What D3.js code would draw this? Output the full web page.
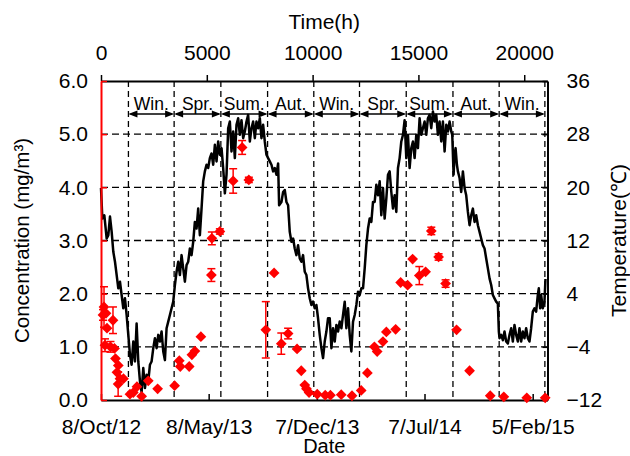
<!DOCTYPE html>
<html>
<head>
<meta charset="utf-8">
<script src="https://cdn.jsdelivr.net/npm/d3@7"></script>
<style>
  body { margin: 0; background: #fff; }
  svg { display: block; font-family: "Liberation Sans", Arial, sans-serif; }
</style>
</head>
<body>
<div id="chart"></div>
<script>
// Temperature (hourly record): hours since start, degC
var tempHours = [0,63,157,268,346,425,504,582,661,740,818,897,975,1054,1133,1211,1290,1369,1447,1526,1605,1683,1762,1841,1919,1998,2077,2155,2234,2312,2391,2470,2548,2627,2706,2784,2863,2942,3020,3099,3178,3256,3335,3414,3492,3571,3650,3728,3807,3885,3964,4043,4121,4200,4279,4357,4436,4515,4593,4672,4751,4829,4908,4987,5065,5144,5223,
  5302,5381,5460,5538,5617,5696,5774,5853,5932,6010,6089,6167,6246,6325,6403,6482,6561,6639,6718,6797,6875,6954,7033,7111,7190,7269,7347,7426,7505,7583,7662,7740,7819,7898,7976,8055,8134,8212,8291,8370,8417,8527,8606,8684,8763,8842,8920,8999,9078,9156,9235,9313,9392,9471,9549,9628,9707,9785,9864,9943,10021,10100,10179,10257,10336,10415,10493,10572,10651,10729,
  10809,10888,10966,11045,11124,11202,11281,11360,11438,11517,11595,11674,11753,11831,11910,11989,12067,12146,12225,12303,12382,12461,12539,12618,12697,12775,12854,12933,13011,13090,13169,13247,13326,13404,13483,13562,13640,13719,13798,13876,13955,14034,14112,14191,14270,14348,14427,14506,14584,14663,14741,14820,14899,14977,15056,15135,15213,15292,15371,15449,15528,15607,15685,15764,15843,15921,16000,
  16080,16158,16237,16316,16394,16473,16552,16599,16662,16709,16756,16819,16866,16945,17023,17102,17181,17259,17338,17417,17495,17574,17653,17731,17810,17889,17967,18046,18125,18203,18282,18361,18439,18518,18596,18675,18754,18801,18832,18911,18990,19068,19147,19226,19304,19383,19462,19540,19619,19698,19776,19855,19934,20012,20091,20170,20248,20327,20406,20484,20563,20642,20689,20752,20799,20878,20957,21004];
var tempValues = [19.9,15.3,15.8,12.3,12.8,15.6,13.3,10.3,8.8,6.8,4.8,5.8,3.8,1.8,3.3,0.8,-2.2,-5.2,-6.7,-3.2,-6.2,-0.5,-6.2,-9.2,-10.8,-7.2,-10.2,-8.2,-9.2,-6.7,-6.2,-4.2,-2.7,-4.2,-2.2,-3.2,-1.7,-4.7,-6.0,-1.2,-0.2,0.8,1.8,2.8,5.3,7.3,8.8,6.8,9.8,7.8,5.8,8.3,8.8,10.8,9.8,11.8,14.8,13.8,16.8,12.8,16.8,20.9,22.4,23.4,22.9,24.4,25.1,
  23.4,26.4,23.9,26.9,24.9,25.9,22.9,19.1,21.9,28.9,29.9,25.4,28.4,24.4,29.4,30.4,27.9,30.1,27.4,28.4,29.9,30.9,26.9,28.9,29.9,27.4,29.9,28.9,30.4,27.4,29.4,26.9,24.9,24.4,23.9,23.4,22.4,22.9,21.9,23.6,17.3,17.8,19.3,19.6,17.8,17.3,13.3,11.8,12.3,10.8,9.8,11.3,9.3,8.8,9.8,7.3,6.8,4.8,3.3,2.3,2.8,1.8,2.3,0.3,-2.2,-4.2,-5.7,-3.2,-1.7,0.3,
  0.3,-4.2,-1.2,-3.2,-0.7,-1.7,-0.2,-1.2,0.8,2.8,-1.2,1.8,-2.2,-4.7,-0.2,0.8,2.3,4.3,3.8,4.8,4.8,7.8,11.3,13.8,15.3,14.8,17.8,17.8,20.4,18.8,20.9,15.8,19.9,15.3,18.3,21.9,22.4,19.3,16.8,18.8,16.3,22.9,24.4,26.9,27.9,30.1,24.4,27.9,22.9,25.9,26.9,24.4,27.9,25.9,30.4,27.9,28.9,29.9,27.9,30.4,30.9,28.9,31.4,29.9,30.9,27.9,29.9,
  26.9,29.9,25.4,29.4,28.4,29.9,28.4,27.9,21.9,24.9,25.9,23.4,22.4,21.4,19.3,22.4,19.9,18.8,16.3,14.3,15.8,16.8,14.8,15.8,14.3,13.3,12.3,11.3,10.8,9.3,7.8,6.3,5.3,3.8,3.3,2.8,2.5,-1.7,-2.7,-2.2,-3.0,-1.7,-3.2,-3.5,-2.2,-1.2,-3.2,-0.7,-2.2,-3.2,-1.2,-3.2,-1.7,-2.7,-1.2,-2.7,-3.2,-1.2,1.3,1.8,1.3,3.8,4.8,1.8,3.8,1.8,2.8,6.2];

// Concentration samples: hours since start, mg/m3, error (0 = none)
var concHours = [94,142,236,283,566,189,448,637,684,817,755,810,897,1062,1369,1525,1699,1921,2233,2676,3479,3700,3745,4168,4295,4437,4720,5216,5239,5617,6245,6669,6986,7788,8180,8520,8841,9265,9464,9629,9709,9832,10219,10596,10842,11352,11861,12296,12588,12919,13051,13325,13485,13924,14160,14490,14726,15043,15340,15609,15954,16284,16803,17417,18394,19036,20121,20990];
var concValues = [1.60,1.75,1.63,1.35,1.50,1.03,1.00,0.97,0.78,0.65,0.52,0.30,0.40,0.40,0.11,0.14,0.25,0.07,0.36,0.21,0.27,0.74,0.63,0.63,0.85,0.92,1.19,2.35,3.04,3.17,4.12,4.75,4.14,1.32,2.39,1.06,1.25,0.96,0.55,0.28,0.21,0.14,0.11,0.09,0.09,0.10,0.08,0.18,0.51,1.00,0.91,1.10,1.28,1.33,2.21,2.16,2.65,2.34,2.41,3.18,2.69,2.19,1.32,0.55,0.08,0.06,0.04,0.04];
var concErr = [0.10,0.38,0,0,0.25,0.12,0.10,0,0,0,0,0.23,0,0,0,0,0,0,0,0,0,0,0,0,0,0,0,0.12,0.12,0.05,0.23,0.13,0.05,0.53,0,0.20,0.10,0,0,0,0,0,0,0,0,0,0,0,0,0,0,0,0,0,0,0,0,0.17,0,0.07,0.06,0.07,0,0,0,0,0,0];

// Seasons
var seasonBounds = ["2012-12-01","2013-03-01","2013-06-01","2013-09-01","2013-12-01","2014-03-01","2014-06-01","2014-09-01","2014-12-01","2015-03-01"];
var seasonNames = ["Win.","Spr.","Sum.","Aut.","Win.","Spr.","Sum.","Aut.","Win."];

// Axes
var startDay = "2012-10-08";
var hourEnd = 21100;
var hourTicks = [0, 5000, 10000, 15000, 20000];
var dateTicks = ["2012-10-08","2013-05-08","2013-12-07","2014-07-07","2015-02-05"];
var dateLabels = ["8/Oct/12","8/May/13","7/Dec/13","7/Jul/14","5/Feb/15"];
var concTicks = [0, 1, 2, 3, 4, 5, 6];
var tempTicks = [-12, -4, 4, 12, 20, 28, 36];

(function() {
    var W = 630, H = 456;
    var pL = 101, pR = 547.5, pT = 81, pB = 400;
    var parse = d3.utcParse("%Y-%m-%d");
    var t0 = parse(startDay);

    var svg = d3.select("#chart").append("svg")
        .attr("width", W).attr("height", H);
    svg.append("rect").attr("width", W).attr("height", H).attr("fill", "#fff");

    var xHour = d3.scaleLinear().domain([0, hourEnd]).range([pL, pR]);
    var xDate = d3.scaleUtc()
        .domain([t0, new Date(t0.getTime() + hourEnd * 3600e3)])
        .range([pL, pR]);
    var yConc = d3.scaleLinear().domain([0, 6]).range([pB, pT]);
    var yTemp = d3.scaleLinear().domain([-12, 36]).range([pB, pT]);

    // horizontal dashed grid
    svg.append("g").selectAll("line")
        .data(concTicks.filter(function(d) { return d > 0 && d < 6; }))
      .enter().append("line")
        .attr("x1", pL).attr("x2", pR)
        .attr("y1", function(d) { return yConc(d); })
        .attr("y2", function(d) { return yConc(d); })
        .attr("stroke", "#000").attr("stroke-width", 1.4)
        .attr("stroke-dasharray", "7,4");

    // season boundaries
    var bounds = seasonBounds.map(parse);
    svg.append("g").selectAll("line")
        .data(bounds)
      .enter().append("line")
        .attr("x1", function(d) { return xDate(d); })
        .attr("x2", function(d) { return xDate(d); })
        .attr("y1", pT).attr("y2", pB)
        .attr("stroke", "#000").attr("stroke-width", 1.3)
        .attr("stroke-dasharray", "6,4");

    // season arrows + labels
    var arrowY = 114, head = 9, half = 3.5;
    var sg = svg.append("g");
    seasonNames.forEach(function(n, i) {
        var xa = xDate(bounds[i]), xb = xDate(bounds[i + 1]);
        sg.append("line")
            .attr("x1", xa + 2).attr("x2", xb - 2)
            .attr("y1", arrowY).attr("y2", arrowY)
            .attr("stroke", "#000").attr("stroke-width", 1.4);
        sg.append("path")
            .attr("d", "M" + xa + "," + arrowY + "L" + (xa + head) + "," + (arrowY - half) + "L" + (xa + head) + "," + (arrowY + half) + "Z")
            .attr("fill", "#000");
        sg.append("path")
            .attr("d", "M" + xb + "," + arrowY + "L" + (xb - head) + "," + (arrowY - half) + "L" + (xb - head) + "," + (arrowY + half) + "Z")
            .attr("fill", "#000");
        sg.append("text")
            .attr("x", (xa + xb) / 2).attr("y", 109.5)
            .attr("text-anchor", "middle")
            .attr("font-size", "17.5px")
            .text(n);
    });

    // temperature line
    var tempData = tempHours.map(function(h, i) { return {h: h, t: tempValues[i]}; });
    svg.append("path")
        .datum(tempData)
        .attr("fill", "none")
        .attr("stroke", "#000")
        .attr("stroke-width", 2.5)
        .attr("stroke-linejoin", "round")
        .attr("d", d3.line()
            .x(function(d) { return xHour(d.h); })
            .y(function(d) { return yTemp(d.t); }));

    // axes
    var axTop = svg.append("g").attr("transform", "translate(0," + pT + ")")
        .call(d3.axisTop(xHour).tickValues(hourTicks).tickSize(6).tickSizeOuter(0).tickPadding(15).tickFormat(d3.format("d")));
    var axBottom = svg.append("g").attr("transform", "translate(0," + pB + ")")
        .call(d3.axisBottom(xDate).tickValues(dateTicks.map(parse)).tickSize(-6).tickSizeOuter(0).tickPadding(19)
            .tickFormat(function(d, i) { return dateLabels[i]; }));
    var axRight = svg.append("g").attr("transform", "translate(" + pR + ",0)")
        .call(d3.axisRight(yTemp).tickValues(tempTicks).tickSize(-5).tickSizeOuter(0).tickPadding(19));
    var axLeft = svg.append("g").attr("transform", "translate(" + pL + ",0)")
        .call(d3.axisLeft(yConc).tickValues(concTicks).tickSize(-6).tickSizeOuter(0).tickPadding(13).tickFormat(d3.format(".1f")));

    [axTop, axBottom, axRight, axLeft].forEach(function(a) {
        a.attr("font-size", "21px").attr("font-family", null);
        a.select(".domain").attr("stroke-width", 2);
        a.selectAll(".tick line").attr("stroke-width", 1.5);
        a.selectAll(".tick text").attr("fill", "#000");
    });
    axLeft.select(".domain").attr("stroke", "#ff0000");
    axLeft.selectAll(".tick line").attr("stroke", "#ff0000");

    // error bars
    var conc = concHours.map(function(h, i) { return {h: h, c: concValues[i], e: concErr[i]}; });
    var eb = svg.append("g").attr("stroke", "#ff0000").attr("stroke-width", 1.5);
    conc.filter(function(d) { return d.e > 0; }).forEach(function(d) {
        var x = xHour(d.h), ya = yConc(d.c - d.e), yb = yConc(d.c + d.e);
        eb.append("line").attr("x1", x).attr("x2", x).attr("y1", ya).attr("y2", yb);
        eb.append("line").attr("x1", x - 4).attr("x2", x + 4).attr("y1", ya).attr("y2", ya);
        eb.append("line").attr("x1", x - 4).attr("x2", x + 4).attr("y1", yb).attr("y2", yb);
    });

    // diamonds
    svg.append("g").selectAll("path")
        .data(conc)
      .enter().append("path")
        .attr("d", d3.symbol().type(d3.symbolSquare).size(58))
        .attr("transform", function(d) { return "translate(" + xHour(d.h) + "," + yConc(d.c) + ") rotate(45)"; })
        .attr("fill", "#ff0000");

    // titles
    svg.append("text")
        .attr("x", (pL + pR) / 2).attr("y", 29)
        .attr("text-anchor", "middle").attr("font-size", "21px")
        .text("Time(h)");
    svg.append("text")
        .attr("x", (pL + pR) / 2).attr("y", 453)
        .attr("text-anchor", "middle").attr("font-size", "20px")
        .text("Date");
    svg.append("text")
        .attr("transform", "translate(29," + ((pT + pB) / 2) + ") rotate(-90)")
        .attr("text-anchor", "middle").attr("font-size", "20.5px")
        .text("Concentration (mg/m³)");
    svg.append("text")
        .attr("transform", "translate(626," + ((pT + pB) / 2) + ") rotate(-90)")
        .attr("text-anchor", "middle").attr("font-size", "21px")
        .text("Temperature(℃)");
})();
</script>
</body>
</html>
